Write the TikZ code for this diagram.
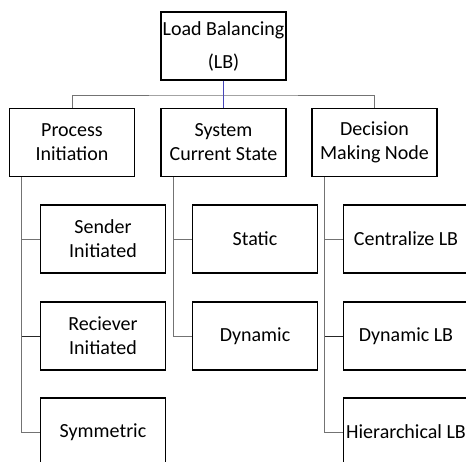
\documentclass[tikz,border=0pt]{standalone}
\usepackage{fontspec}
\setmainfont{Carlito}
\begin{document}
\begin{tikzpicture}[x=1pt,y=-1pt,
  box/.style={draw=black,line width=1.3pt,minimum width=125pt,minimum height=68pt,
    inner sep=0pt,align=center,font=\fontsize{20}{24}\selectfont},
  conn/.style={draw=gray!90!black,line width=1pt},
  darkconn/.style={draw=black!85,line width=1pt},
  rootlink/.style={draw=blue!45!gray,line width=1pt}]
\useasboundingbox (0,0) rectangle (466,461);
\clip (0,0) rectangle (466,461);
\fill[white] (0,0) rectangle (466,461);

% root and first level
\node[box,font=\fontsize{20}{33}\selectfont] (root) at (223.5,46) {Load Balancing\\(LB)};
\node[box] (pi)  at (72,142.5)  {Process\\Initiation};
\node[box] (scs) at (223.5,142.5) {System\\Current State};
\node[box] (dmn) at (374.5,142.5) {Decision\\Making Node};

% children of Process Initiation
\node[box] (snd) at (103,239) {Sender\\Initiated};
\node[box] (rcv) at (103,336) {Reciever\\Initiated};
\node[box] (sym) at (103,432) {Symmetric};

% children of System Current State
\node[box] (sta) at (255,239) {Static};
\node[box] (dyn) at (255,336) {Dynamic};

% children of Decision Making Node
\node[box] (cen) at (406,239) {Centralize LB};
\node[box] (dlb) at (406,336) {Dynamic LB};
\node[box] (hlb) at (406,432) {Hierarchical LB};

% bus between root and first level
\coordinate (bus) at (223.5,95);
\draw[conn] (pi.north) |- (bus) -| (dmn.north);
\draw[rootlink] (root.south) -- (scs.north);

% vertical rails to children
\coordinate (piR) at ([xshift=13pt]pi.south west);
\coordinate (scsR) at ([xshift=13pt]scs.south west);
\coordinate (dmnR) at ([xshift=13pt]dmn.south west);

\draw[conn] (piR) |- (snd.west);
\draw[darkconn] (piR |- rcv.west) -- (rcv.west);
\draw[conn] (piR) |- (sym.west);

\draw[conn] (scsR) |- (sta.west);
\draw[conn] (scsR) |- (dyn.west);

\draw[conn] (dmnR) |- (cen.west);
\draw[darkconn] (dmnR |- dlb.west) -- (dlb.west);
\draw[conn] (dmnR) |- (hlb.west);
\end{tikzpicture}
\end{document}
